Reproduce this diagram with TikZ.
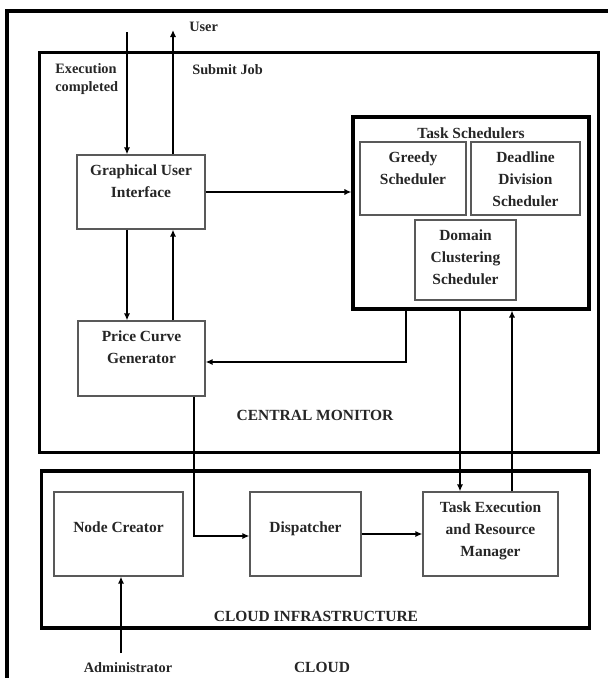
\documentclass[tikz,border=0pt]{standalone}
\usepackage{fontspec}
\setmainfont{Liberation Serif}
\usetikzlibrary{arrows.meta}
\newcommand{\boxfont}{\fontsize{11}{15.5}\selectfont\bfseries}
\newcommand{\tagfont}{\fontsize{10.2}{12.5}\selectfont\bfseries}
\begin{document}
\begin{tikzpicture}[x=0.025cm,y=-0.025cm,
 unit/.style={draw=black!65,line width=0.9pt,inner sep=0pt},
 unittext/.style={anchor=north,align=center,inner sep=0pt,yshift=-7.5pt,font=\boxfont,text=black!85},
 frame/.style={draw=black,line width=2.2pt,inner sep=0pt},
 tag/.style={inner sep=0pt,font=\tagfont,text=black!85},
 flow/.style={line width=1.1pt,-{Latex[length=5pt,width=4.5pt]}}]
 \useasboundingbox (0,0) rectangle (608,678);
 \draw[line width=2.2pt] (7,678) -- (7,11) -- (608,11); 
 % central monitor
 \node[frame,minimum width=13.95cm,minimum height=9.975cm] (cm) at (319,252.5) {}; 
 \node[tag,font=\boxfont] (cmname) at (315,415) {CENTRAL MONITOR}; 
 \node[unit,minimum width=3.2cm,minimum height=1.85cm] (gui) at (141,192) {}; 
 \node[unittext] (guitext) at (gui.north) {Graphical User\\Interface}; 
 \node[unit,minimum width=3.175cm,minimum height=1.875cm] (price) at (141.5,358.5) {}; 
 \node[unittext] (pricetext) at (price.north) {Price Curve\\Generator}; 
 \node[frame,minimum width=5.9cm,minimum height=4.8cm] (ts) at (471,213) {}; 
 \node[unittext,yshift=-1.3pt] (tstext) at (ts.north) {Task Schedulers}; 
 \node[unit,minimum width=2.65cm,minimum height=1.825cm] (greedy) at (413,178.5) {}; 
 \node[unittext] (greedytext) at (greedy.north) {Greedy\\Scheduler}; 
 \node[unit,minimum width=2.725cm,minimum height=1.825cm] (deadline) at (525.5,178.5) {}; 
 \node[unittext] (deadlinetext) at (deadline.north) {Deadline\\Division\\Scheduler}; 
 \node[unit,minimum width=2.525cm,minimum height=2cm] (domain) at (465.5,260) {}; 
 \node[unittext] (domaintext) at (domain.north) {Domain\\Clustering\\Scheduler}; 
 % cloud infrastructure
 \node[frame,minimum width=13.675cm,minimum height=3.925cm] (cloudinf) at (315.5,549.5) {}; 
 \node[tag,font=\boxfont] (cloudinfname) at (316,616) {CLOUD INFRASTRUCTURE}; 
 \node[unit,minimum width=3.225cm,minimum height=2.1cm] (creator) at (118.5,534) {}; 
 \node[unittext,yshift=-14pt] (creatortext) at (creator.north) {Node Creator}; 
 \node[unit,minimum width=2.775cm,minimum height=2.1cm] (disp) at (305.5,534) {}; 
 \node[unittext,yshift=-14pt] (disptext) at (disp.north) {Dispatcher}; 
 \node[unit,minimum width=3.375cm,minimum height=2.1cm] (taskexe) at (490.5,534) {}; 
 \node[unittext] (taskexetext) at (taskexe.north) {Task Execution\\and Resource\\Manager}; 
 % outside texts
 \node[tag,anchor=west] (user) at (189,27) {User}; 
 \node[tag,anchor=west] (submit) at (192,70) {Submit Job}; 
 \node[tag,anchor=west,align=left] (done) at (55,79) {Execution\\completed}; 
 \node[tag] (admin) at (128,668) {Administrator}; 
 \node[tag,font=\boxfont] (cloud) at (322,667) {CLOUD}; 
 % connectors
 \coordinate (execin) at (127,32); 
 \coordinate (userout) at (173,30); 
 \coordinate (tsback) at (406,362); 
 \coordinate (pricedisp) at (194,536); 
 \coordinate (tsdown) at (460,0); 
 \coordinate (tsup) at (512,0); 
 \coordinate (adminup) at (121,653); 
 \draw[flow] (execin) -- (execin |- gui.north); 
 \draw[flow] (userout |- gui.north) -- (userout); 
 \draw[flow] (execin |- gui.south) -- (execin |- price.north); 
 \draw[flow] (userout |- price.north) -- (userout |- gui.south); 
 \draw[flow] (gui.east) -- (gui.east -| ts.west); 
 \draw[flow] (tsback |- ts.south) -- (tsback) -- (tsback -| price.east); 
 \draw[flow] (pricedisp |- price.south) -- (pricedisp) -- (pricedisp -| disp.west); 
 \draw[flow] (disp.east) -- (taskexe.west); 
 \draw[flow] (tsdown |- ts.south) -- (tsdown |- taskexe.north); 
 \draw[flow] (tsup |- taskexe.north) -- (tsup |- ts.south); 
 \draw[flow] (adminup) -- (adminup |- creator.south); 
\end{tikzpicture}
\end{document}
